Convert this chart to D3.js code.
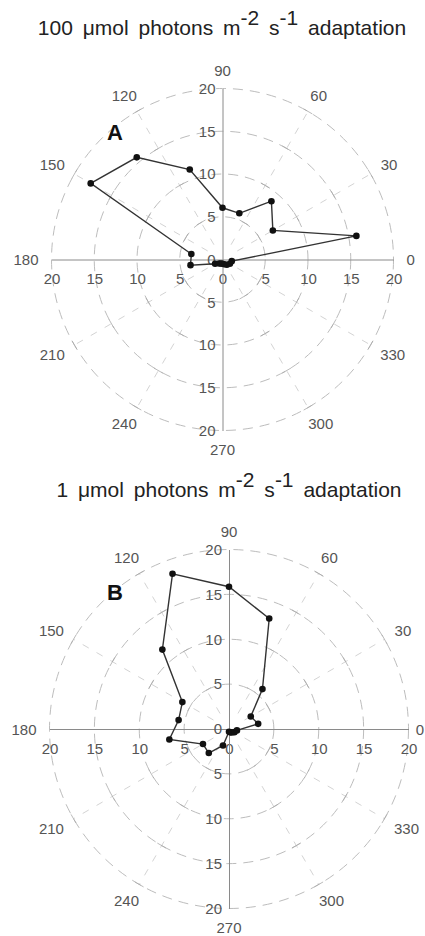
<!DOCTYPE html>
<html>
<head>
<meta charset="utf-8">
<script src="https://cdn.jsdelivr.net/npm/d3@7"></script>
<style>
  body { margin: 0; background: #fff; }
  svg { display: block; }
</style>
</head>
<body>
<script>
// angle of each measurement (degrees, counter-clockwise from 0 = right)
const angles = [10, 30, 50, 70, 90, 110, 130, 150, 170, 190, 210, 230, 250, 270, 290, 310, 330, 350];
// 100 umol photons adaptation
const valuesA = [15.9, 6.8, 8.9, 5.75, 6.05, 11.2, 15.6, 17.8, 3.7, 3.8, 1.0, 0.6, 0.5, 0.5, 0.6, 0.8, 1.0, 1.1];
// 1 umol photons adaptation
const valuesB = [3.3, 2.8, 5.8, 13.1, 15.85, 18.4, 11.55, 6.0, 5.7, 6.75, 3.35, 3.5, 1.95, 0.3, 0.4, 0.5, 0.7, 0.9];

const angleTicks = [0, 30, 60, 90, 120, 150, 180, 210, 240, 270, 300, 330];
const rings = [5, 10, 15, 20];
const axisTicks = [-20, -15, -10, -5, 0, 5, 10, 15, 20];

const svg = d3.select("body").append("svg")
  .attr("width", 425)
  .attr("height", 936);

const rad = d => d * Math.PI / 180;
const FONT = "'Liberation Sans', Arial, sans-serif";

function drawTitle(x, y, lead) {
  const t = svg.append("text")
    .attr("x", x)
    .attr("y", y)
    .attr("text-anchor", "middle")
    .style("font-family", FONT)
    .style("font-size", "21px")
    .style("word-spacing", "4px")
    .attr("fill", "#222");
  t.append("tspan").text(lead + " \u03bcmol photons m");
  t.append("tspan").attr("dy", -10).text("-2");
  t.append("tspan").attr("dy", 10).text(" s");
  t.append("tspan").attr("dy", -10).text("-1");
  t.append("tspan").attr("dy", 10).text(" adaptation");
}

function drawPanel(p, values) {
  const g = svg.append("g");
  const r = d3.scaleLinear().domain([0, 20]).range([0, p.R]);

  // dashed rings
  g.selectAll("circle.ring")
    .data(rings)
    .join("circle")
    .attr("class", "ring")
    .attr("cx", p.cx)
    .attr("cy", p.cy)
    .attr("r", d => r(d))
    .attr("fill", "none")
    .attr("stroke", "#b4b4b4")
    .attr("stroke-width", 0.9)
    .attr("stroke-dasharray", "10,7");

  // dashed spokes
  const spokes = angleTicks.filter(a => a % 90 !== 0);
  g.selectAll("line.spoke")
    .data(spokes)
    .join("line")
    .attr("class", "spoke")
    .attr("x1", a => p.cx + r(2) * Math.cos(rad(a)))
    .attr("y1", a => p.cy - r(2) * Math.sin(rad(a)))
    .attr("x2", a => p.cx + r(20) * Math.cos(rad(a)))
    .attr("y2", a => p.cy - r(20) * Math.sin(rad(a)))
    .attr("stroke", "#c8c8c8")
    .attr("stroke-width", 0.8)
    .attr("stroke-dasharray", "7,9");

  // little cross ticks where spokes meet rings
  const crosses = [];
  spokes.forEach(a => rings.forEach(v => crosses.push({ a, v })));
  g.selectAll("line.cross")
    .data(crosses)
    .join("line")
    .attr("class", "cross")
    .attr("x1", d => p.cx + r(d.v) * Math.cos(rad(d.a)) - 5 * Math.sin(rad(d.a)))
    .attr("y1", d => p.cy - r(d.v) * Math.sin(rad(d.a)) - 5 * Math.cos(rad(d.a)))
    .attr("x2", d => p.cx + r(d.v) * Math.cos(rad(d.a)) + 5 * Math.sin(rad(d.a)))
    .attr("y2", d => p.cy - r(d.v) * Math.sin(rad(d.a)) + 5 * Math.cos(rad(d.a)))
    .attr("stroke", "#a8a8a8")
    .attr("stroke-width", 0.8);

  // cartesian axes through the centre
  const x = d3.scaleLinear().domain([-20, 20]).range([p.cx - p.R, p.cx + p.R]);
  const y = d3.scaleLinear().domain([-20, 20]).range([p.cy + p.R, p.cy - p.R]);

  const xAxis = g.append("g")
    .attr("transform", `translate(0,${p.cy})`)
    .call(d3.axisBottom(x).tickValues(axisTicks).tickSize(0).tickSizeOuter(0)
      .tickPadding(14).tickFormat(d => Math.abs(d)));

  const yAxis = g.append("g")
    .attr("transform", `translate(${p.cx},0)`)
    .call(d3.axisLeft(y).tickValues(axisTicks).tickSize(0).tickSizeOuter(0)
      .tickPadding(7).tickFormat(d => Math.abs(d)));

  [xAxis, yAxis].forEach(ax => {
    ax.select(".domain").attr("stroke", "#8a8a8a").attr("stroke-width", 1);
    ax.selectAll("text")
      .style("font-family", FONT)
      .style("font-size", "15px")
      .attr("fill", "#555");
  });

  // angle labels around the outside
  const lab = g.selectAll("text.ang")
    .data(angleTicks)
    .join("text")
    .attr("class", "ang")
    .attr("text-anchor", "middle")
    .attr("dominant-baseline", "central")
    .style("font-family", FONT)
    .style("font-size", "15px")
    .attr("fill", "#555")
    .text(d => d);
  lab.each(function(a) {
    const w = this.getComputedTextLength();
    const c = Math.cos(rad(a)), s = Math.sin(rad(a));
    const lx = p.cx + (p.R + 13) * c + w / 2 * c;
    d3.select(this)
      .attr("x", Math.min(lx, 424 - w / 2))
      .attr("y", p.cy - (p.R + 13) * s - 5.5 * s);
  });

  // data polygon
  const pts = angles.map((a, i) => [a, values[i]]);
  const line = d3.lineRadial()
    .angle(d => rad(90 - d[0]))
    .radius(d => r(d[1]))
    .curve(d3.curveLinearClosed);

  g.append("path")
    .attr("transform", `translate(${p.cx},${p.cy})`)
    .attr("d", line(pts))
    .attr("fill", "none")
    .attr("stroke", "#333")
    .attr("stroke-width", 1.4);

  g.selectAll("circle.pt")
    .data(pts)
    .join("circle")
    .attr("class", "pt")
    .attr("cx", d => p.cx + r(d[1]) * Math.cos(rad(d[0])))
    .attr("cy", d => p.cy - r(d[1]) * Math.sin(rad(d[0])))
    .attr("r", 3.3)
    .attr("fill", "#111");

  svg.append("text")
    .attr("x", p.lx)
    .attr("y", p.ly)
    .style("font-family", FONT)
    .style("font-size", "22px")
    .style("font-weight", "bold")
    .attr("fill", "#111")
    .text(p.letter);
}

drawTitle(222, 35, "100");
drawPanel({ cx: 222.5, cy: 259.5, R: 171, letter: "A", lx: 107, ly: 140 }, valuesA);

drawTitle(229, 497, "1");
drawPanel({ cx: 229, cy: 729, R: 179.5, letter: "B", lx: 107, ly: 600 }, valuesB);
</script>
</body>
</html>
